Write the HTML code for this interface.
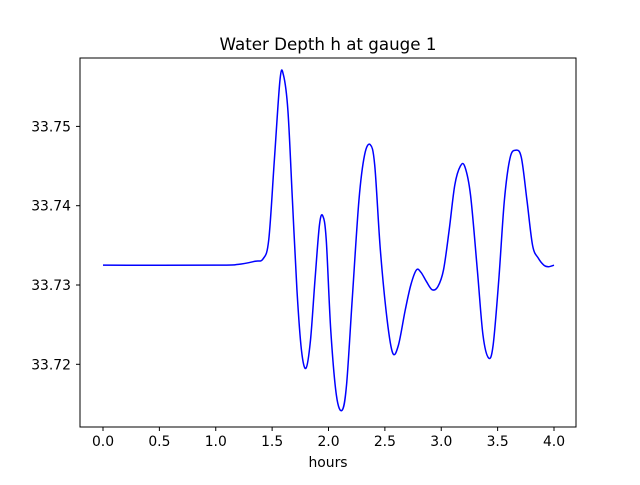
<!DOCTYPE html>
<html><head><meta charset="utf-8"><style>
body{margin:0;background:#fff;}
svg text{font-family:"DejaVu Sans","Liberation Sans",sans-serif;}
</style></head><body>
<svg id="chart" width="640" height="480" xmlns="http://www.w3.org/2000/svg">
<rect width="640" height="480" fill="#fff"/>
<text x="328" y="50" text-anchor="middle" font-size="16.7">Water Depth h at gauge 1</text>
<g id="plot"></g>
<rect x="80" y="58" width="496" height="369" fill="none" stroke="#000" stroke-width="1"/>
<text x="328" y="467" text-anchor="middle" font-size="13.9">hours</text>
</svg>
<script>
const hours=[0,1.0,1.2,1.35,1.42,1.47,1.52,1.57,1.60,1.64,1.68,1.72,1.76,1.80,1.84,1.88,1.92,1.95,1.98,2.02,2.07,2.12,2.16,2.21,2.27,2.32,2.37,2.41,2.46,2.52,2.57,2.62,2.68,2.73,2.78,2.82,2.87,2.92,2.97,3.02,3.07,3.12,3.17,3.21,3.26,3.32,3.37,3.42,3.46,3.51,3.56,3.61,3.66,3.71,3.76,3.81,3.86,3.91,3.95,4.0];
const depth=[33.7325,33.7325,33.7326,33.7330,33.7333,33.7357,33.7458,33.7559,33.7565,33.7520,33.7407,33.7294,33.7218,33.7195,33.7230,33.7306,33.7376,33.7387,33.7357,33.7243,33.7161,33.7142,33.7174,33.7281,33.7407,33.7464,33.7477,33.7451,33.7344,33.7256,33.7214,33.7224,33.7268,33.7300,33.7319,33.7316,33.7304,33.7294,33.7298,33.7319,33.7369,33.7426,33.7450,33.7449,33.7413,33.7319,33.7237,33.7208,33.7224,33.7306,33.7407,33.7460,33.7470,33.7461,33.7407,33.7350,33.7334,33.7325,33.7323,33.7325];
const xTicks=[0,0.5,1.0,1.5,2.0,2.5,3.0,3.5,4.0];
const xTickLabels=["0.0","0.5","1.0","1.5","2.0","2.5","3.0","3.5","4.0"];
const yTicks=[33.72,33.73,33.74,33.75];
const yTickLabels=["33.72","33.73","33.74","33.75"];
const X=h=>103+h*112.75;
const Y=v=>285-(v-33.73)*7930;
const g=document.getElementById('plot');
const NS='http://www.w3.org/2000/svg';
function mk(t,a){const e=document.createElementNS(NS,t);for(const k in a)e.setAttribute(k,a[k]);g.appendChild(e);return e;}
xTicks.forEach((t,i)=>{
 const l=mk('line',{x1:X(t),x2:X(t),y1:427,y2:431,stroke:'#000'});
 
 
 const tx=mk('text',{x:X(t),y:446,'text-anchor':'middle','font-size':13.9});
 tx.textContent=xTickLabels[i];
 
 
});
yTicks.forEach((t,i)=>{
 const l=mk('line',{x1:76,x2:80,y1:Y(t),y2:Y(t),stroke:'#000'});
 
 
 const tx=mk('text',{x:71,y:Y(t)+5,'text-anchor':'end','font-size':13.9});
 tx.textContent=yTickLabels[i];
 
 
});
const P=hours.map((h,i)=>[X(h),Y(depth[i])]);
let d='M'+P[0][0]+','+P[0][1];
for(let i=0;i<P.length-1;i++){
 const p0=P[Math.max(0,i-1)],p1=P[i],p2=P[i+1],p3=P[Math.min(P.length-1,i+2)];
 const c1=[p1[0]+(p2[0]-p0[0])/6,p1[1]+(p2[1]-p0[1])/6];
 const c2=[p2[0]-(p3[0]-p1[0])/6,p2[1]-(p3[1]-p1[1])/6];
 d+=` C${c1[0]},${c1[1]} ${c2[0]},${c2[1]} ${p2[0]},${p2[1]}`;
}
const path=mk('path',{d:d,fill:'none',stroke:'#0000ff','stroke-width':1.5});


</script>
</body></html>
